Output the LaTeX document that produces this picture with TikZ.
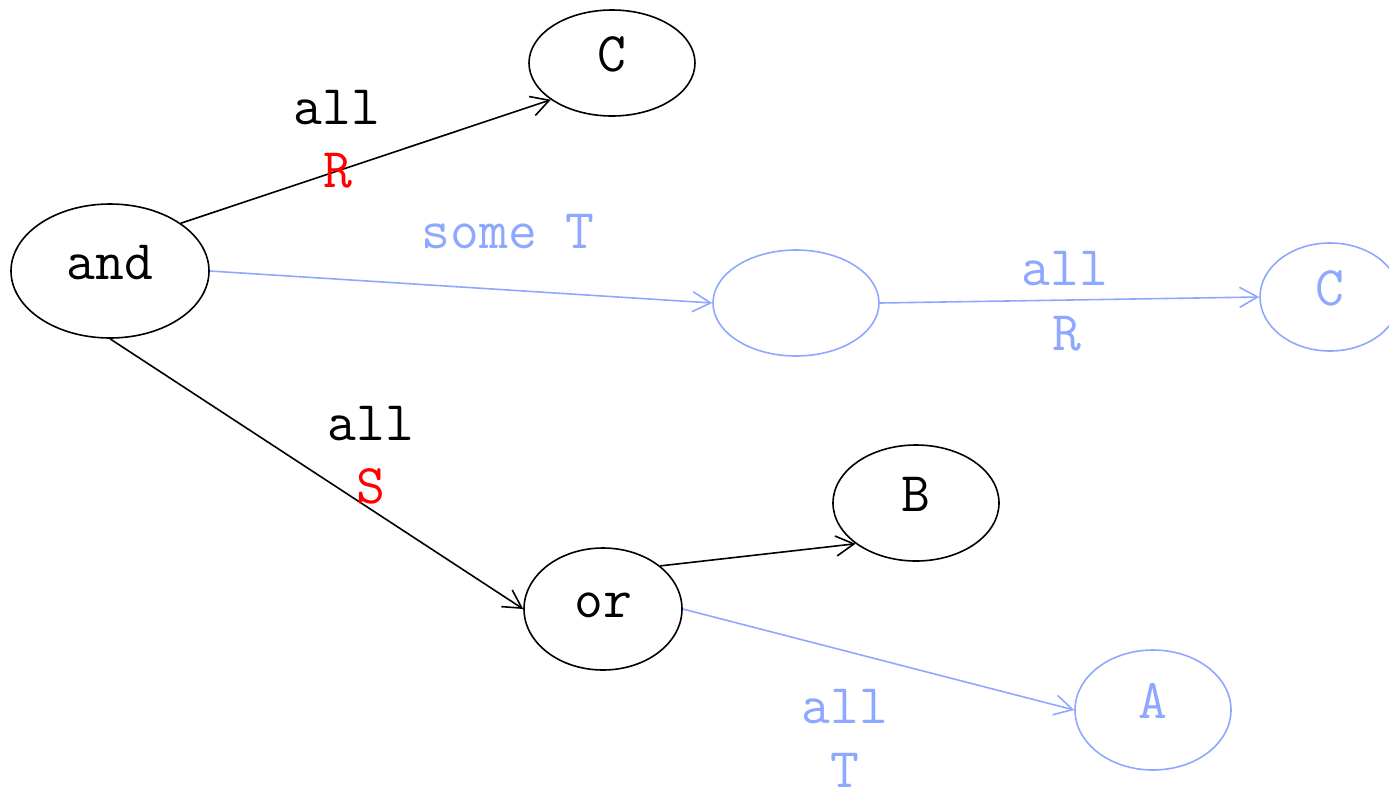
\documentclass[tikz,border=0pt]{standalone}
\usetikzlibrary{shapes.geometric,arrows.meta}
\definecolor{lblue}{HTML}{8FA8FF}
\definecolor{lred}{HTML}{FF0000}
\begin{document}
\begin{tikzpicture}[x=0.5pt,y=-0.5pt,
  every node/.style={font=\ttfamily\fontsize{28}{32}\selectfont},
  ell/.style={ellipse,draw,line width=0.8pt,inner sep=0pt,text height=10pt,text depth=2pt},
  blk/.style={ell,black},
  blu/.style={ell,lblue,text=lblue},
  conn/.style={line width=0.8pt,-{Straight Barb[length=9pt,width=10pt]}},
  lab/.style={anchor=base,inner sep=0pt}]
\useasboundingbox (0,0) rectangle (1389,788);
% nodes (sizes in pt = px/2)
\node[blk,minimum width=99pt,minimum height=67pt] (and) at (110,271) {and};
\node[blk,minimum width=83pt,minimum height=53pt] (c1) at (612,63) {C};
\node[blu,minimum width=83pt,minimum height=53pt] (blank) at (796,303) {};
\node[blu,minimum width=70pt,minimum height=54pt] (c2) at (1330,297) {C};
\node[blk,minimum width=83pt,minimum height=58pt] (b) at (916,503) {B};
\node[blk,minimum width=79pt,minimum height=61pt] (or) at (603,609) {or};
\node[blu,minimum width=78pt,minimum height=60pt] (a) at (1153,710) {A};
% connectors
\draw[conn] (and.34) -- (c1.211);
\draw[conn,lblue] (and.east) -- (blank.west);
\draw[conn,lblue] (blank.east) -- (c2.west);
\draw[conn] (and.south) -- (or.west);
\draw[conn] (or.37) -- (b.214);
\draw[conn,lblue] (or.east) -- (a.west);
% labels
\node[lab] (l1) at (337,124) {all};
\node[lab,text=lred] (l1b) at (338,187) {R};
\node[lab,text=lblue] (l2) at (508,248) {some T};
\node[lab,text=lblue] (l3) at (1065,285) {all};
\node[lab,text=lblue] (l3b) at (1067,350) {R};
\node[lab] (l4) at (371,440) {all};
\node[lab,text=lred] (l4b) at (371,503) {S};
\node[lab,text=lblue] (l5) at (845,723) {all};
\node[lab,text=lblue] (l5b) at (845,787) {T};
\end{tikzpicture}
\end{document}
